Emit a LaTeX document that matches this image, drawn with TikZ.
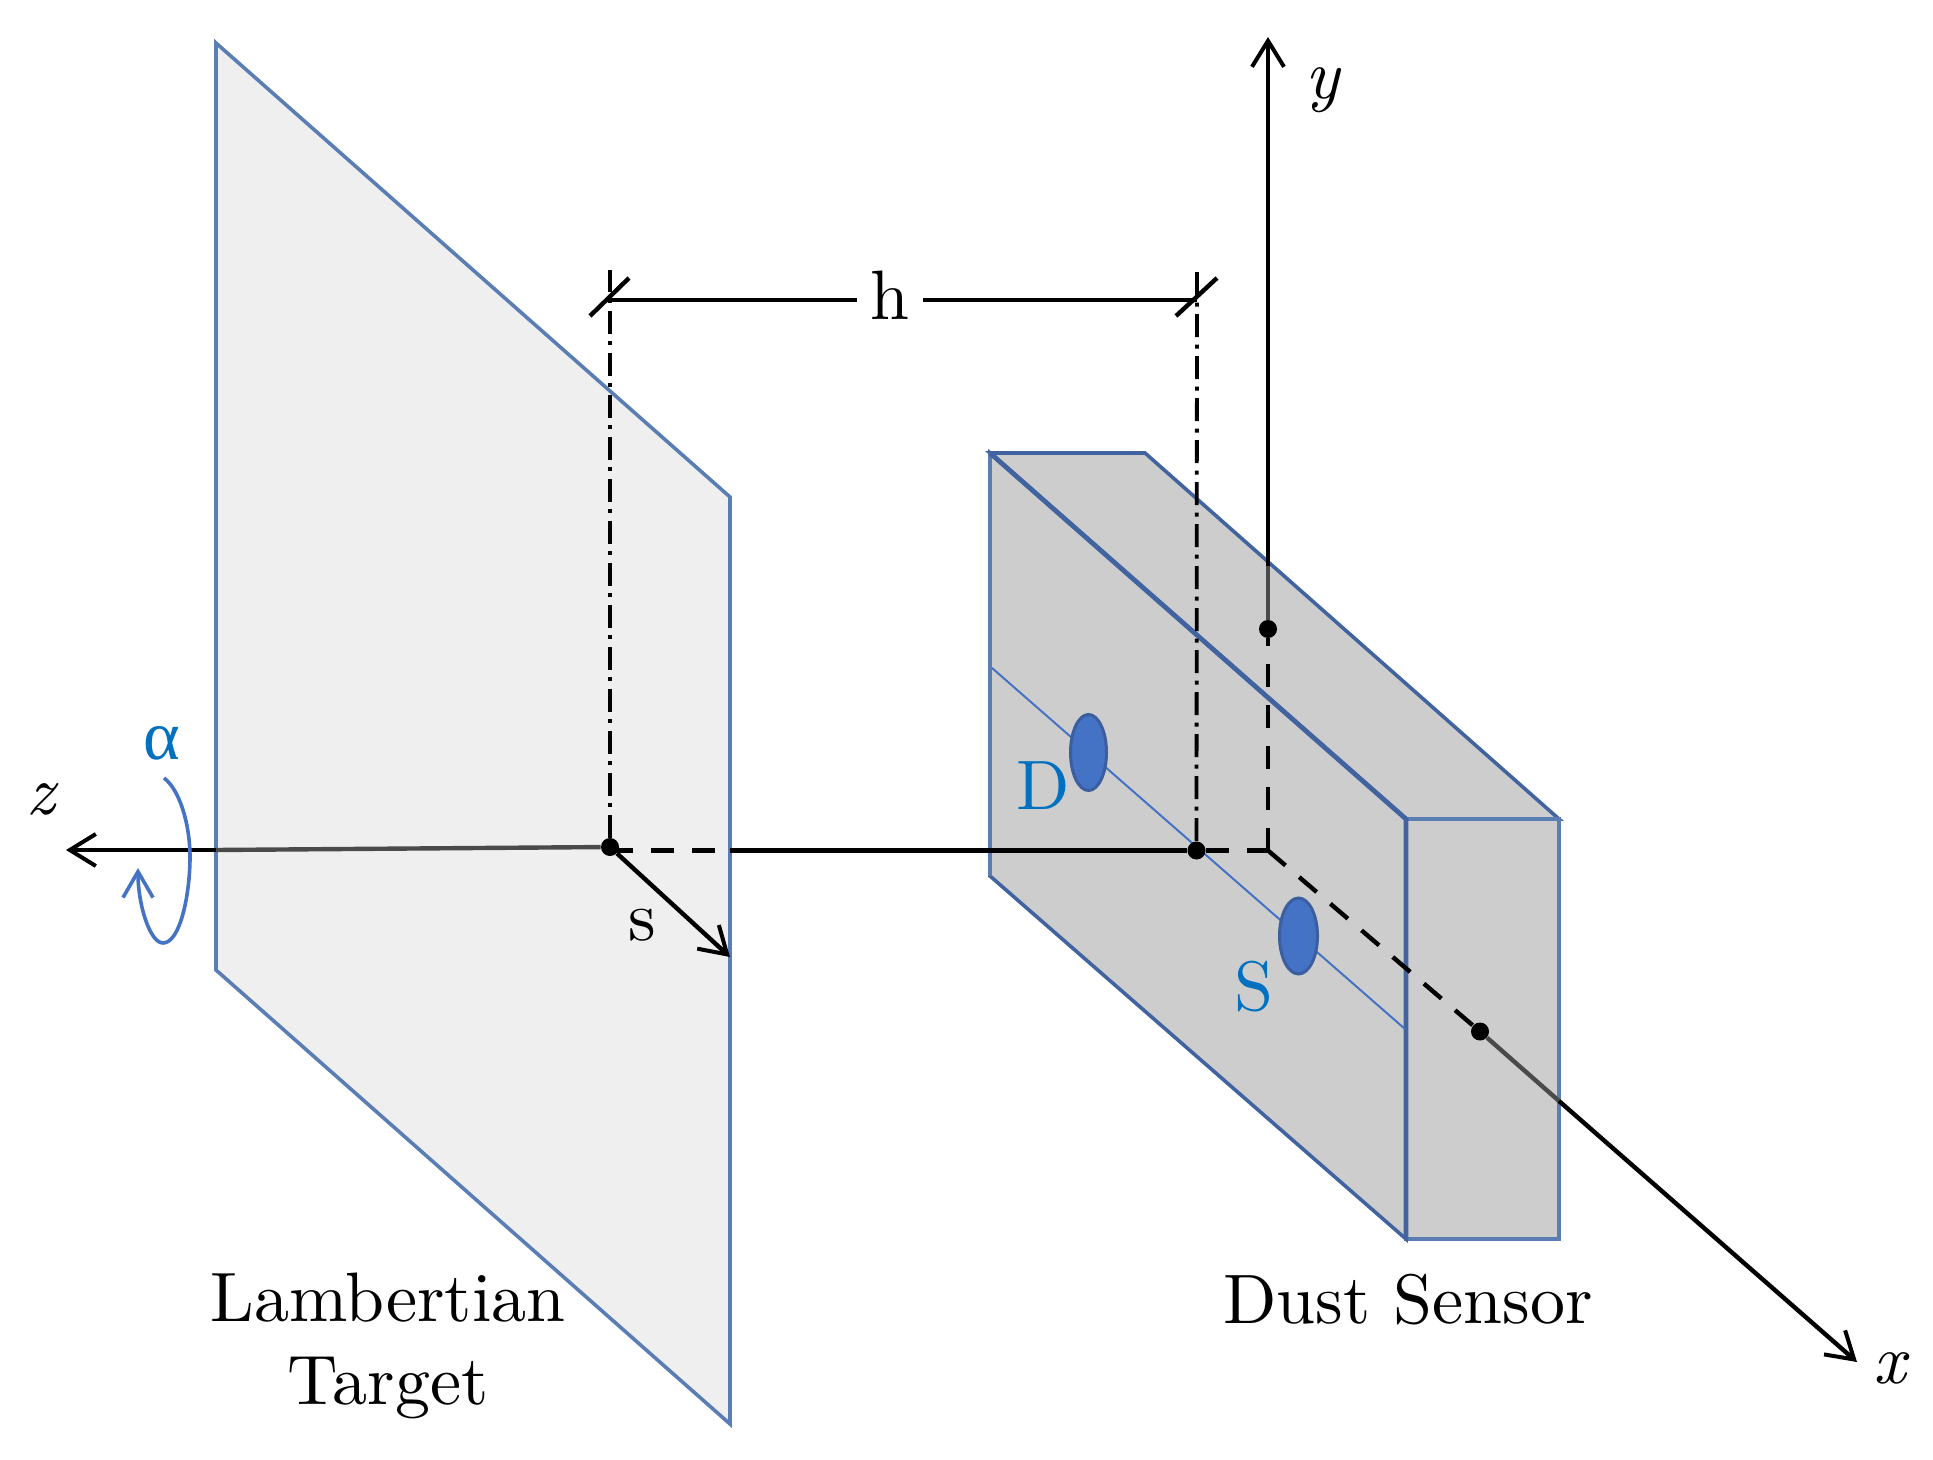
\documentclass[tikz,border=0pt]{standalone}
\usepackage{fontspec}
\usetikzlibrary{arrows.meta,shapes.geometric}
\setmainfont{lmroman10-regular}[Extension=.otf,ItalicFont=lmroman10-italic]
\newfontfamily\grk{Liberation Serif}
\definecolor{planeedge}{HTML}{5A7DB4}
\definecolor{boxedge}{HTML}{41639F}
\definecolor{planefill}{HTML}{EFEFEF}
\definecolor{boxfill}{HTML}{CDCDCD}
\definecolor{ledblue}{HTML}{4472C4}
\definecolor{ledline}{HTML}{3A5E9E}
\definecolor{labelblue}{HTML}{0070C0}
\definecolor{axisgray}{HTML}{4A4A4A}
\tikzset{
  txt/.style={inner sep=0pt,font=\fontsize{35}{42}\selectfont},
  axisvar/.style={txt,font=\fontsize{35}{42}\selectfont\itshape},
  axis/.style={line width=2.2pt,-{Straight Barb[length=13pt,width=16pt,line width=2pt]}},
  plain/.style={line width=2.2pt},
  dashy/.style={line width=2.2pt,dash pattern=on 11.5pt off 9pt},
  dashdot/.style={line width=1.9pt,dash pattern=on 11.5pt off 3.7pt on 2pt off 3.8pt},
  dot/.style={circle,fill=black,inner sep=0pt,minimum size=9pt},
  led/.style={ellipse,fill=ledblue,draw=ledline,line width=1.5pt,inner sep=0pt}
}
\begin{document}
\begin{tikzpicture}[x=0.5pt,y=-0.5pt]
\useasboundingbox (0,0) rectangle (1933,1460);
% target plane
\coordinate (pa) at (216,43);
\coordinate (pb) at (730,497);
\coordinate (pc) at (730,1424);
\coordinate (pd) at (216,970);
\draw[fill=planefill,draw=planeedge,line width=1.8pt] (pa) -- (pb) -- (pc) -- (pd) -- cycle;
% sensor box
\coordinate (ba) at (990,453);
\coordinate (bb) at (1145,453);
\coordinate (bc) at (1559,819);
\coordinate (bd) at (1406,819);
\coordinate (be) at (1559,1239);
\coordinate (bf) at (1406,1239);
\coordinate (bg) at (990,876);
\draw[fill=boxfill,draw=boxedge,line width=1.8pt] (ba) -- (bb) -- (bc) -- (bd) -- cycle;
\draw[fill=boxfill,draw=planeedge,line width=1.8pt] (bd) -- (bc) -- (be) -- (bf) -- cycle;
\draw[fill=boxfill,draw=boxedge,line width=1.8pt] (ba) -- (bd) -- (bf) -- (bg) -- cycle;
\draw[planeedge,line width=1.8pt] (ba) -- (bg);
\draw[boxedge,line width=2.4pt] (ba) -- (bd) -- (bf);
% line through the emitter and detector
\coordinate (ma) at (992,668);
\coordinate (mb) at (1405,1029);
\draw[ledblue,line width=1pt] (ma) -- (mb);
\node[led,minimum width=18pt,minimum height=38pt] (d) at (1088.5,752.5) {};
\node[led,minimum width=19pt,minimum height=38pt] (s) at (1298.5,936) {};
% axes points
\node[dot] (tdot) at (610,847) {};
\node[dot] (sdot) at (1196.5,850.5) {};
\node[dot] (ydot) at (1268,629) {};
\node[dot] (xdot) at (1480,1031.5) {};
\coordinate (o) at (1268,850.5);
\coordinate (ztip) at (66,850);
\coordinate (ytip) at (1268,37);
\coordinate (xtip) at (1857,1362);
\coordinate (stip) at (730,957);
\coordinate (zedge) at (216,850);
\coordinate (tz) at (610,850.5);
\coordinate (redge) at (730,850.5);
\coordinate (yedge) at (1268,566);
\coordinate (xedge) at (1559,1101);
% z axis
\draw[axis] (zedge) -- (ztip);
\draw[plain,axisgray] (tdot) -- (zedge);
\draw[dashy] (tz) -- (redge);
\draw[plain] (redge) -- (sdot);
\draw[dashy] (sdot) -- (o);
% y axis
\draw[axis] (yedge) -- (ytip);
\draw[plain,axisgray] (ydot) -- (yedge);
\draw[dashy] (o) -- (ydot);
% x axis
\draw[dashy] (o) -- (xdot);
\draw[plain,axisgray] (xdot) -- (xedge);
\draw[axis] (xedge) -- (xtip);
% s arrow
\draw[axis] (tdot) -- (stip);
% h dimension
\coordinate (hl) at (610,300);
\coordinate (hr) at (1197,300);
\coordinate (tla) at (590,316);
\coordinate (tlb) at (629,278);
\coordinate (tra) at (1176,316);
\coordinate (trb) at (1217,278);
\coordinate (vl) at (610,270);
\coordinate (vr) at (1197,270);
\node[txt,inner xsep=6.5pt] (h) at (890,295) {h};
\draw[dashdot] (tdot) -- (vl);
\draw[dashdot] (sdot) -- (vr);
\draw[plain] (hl) -- (hl -| h.west);
\draw[plain] (h.east |- hr) -- (hr);
\draw[plain] (tla) -- (tlb);
\draw[plain] (tra) -- (trb);
% rotation arrow
\coordinate (ra) at (164,778);
\coordinate (rb) at (190,857);
\coordinate (rc) at (163,943);
\coordinate (rd) at (138,868);
\draw[ledblue,line width=1.8pt,-{Straight Barb[length=13pt,width=15pt,line width=1.8pt]}]
  (ra) .. controls (180,790) and (190,825) .. (rb)
  .. controls (190,895) and (180,943) .. (rc)
  .. controls (150,943) and (138,905) .. (rd);
% labels
\node[axisvar] (zl) at (41,799) {z};
\node[axisvar] (yl) at (1322,90) {y};
\node[axisvar] (xl) at (1890,1368) {x};
\node[txt,text=labelblue,font=\fontsize{35}{42}\selectfont\grk] (al) at (162,743) {α};
\node[txt] (sl) at (642,925) {s};
\node[txt,text=labelblue] (dl) at (1043,786) {D};
\node[txt,text=labelblue] (sb) at (1254,987) {S};
\node[txt,align=center,font=\fontsize{35}{41.5}\selectfont] (tg) at (388,1346) {Lambertian\\Target};
\node[txt] (ds) at (1408,1300) {Dust Sensor};
\end{tikzpicture}
\end{document}
